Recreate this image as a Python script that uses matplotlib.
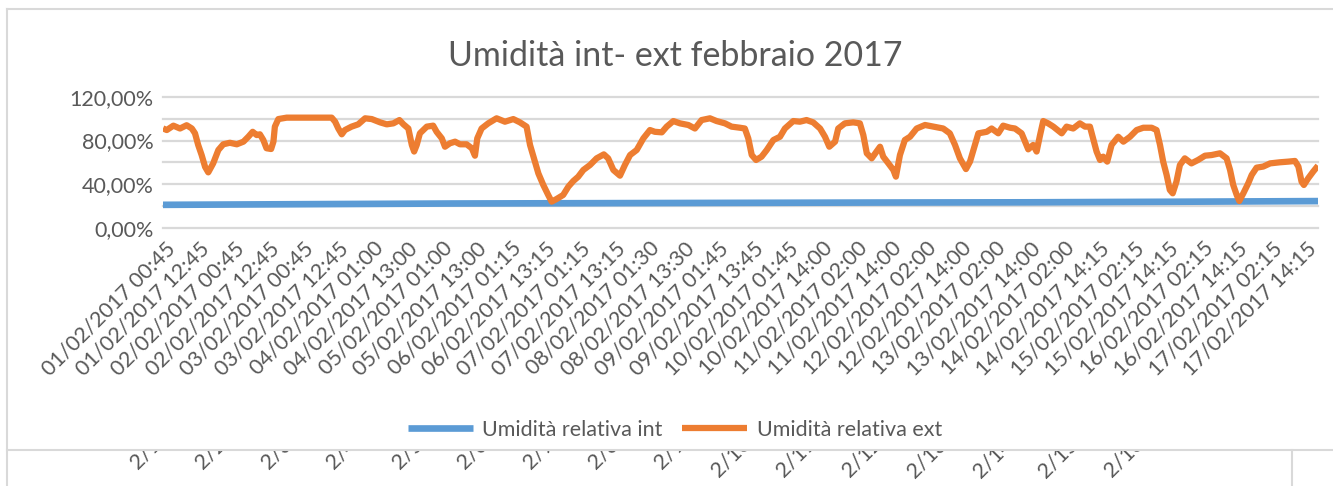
import matplotlib.pyplot as plt
from matplotlib.lines import Line2D
import matplotlib.transforms as mtransforms

plt.rcParams['font.family'] = ['Lato', 'DejaVu Sans']

GRIGIO = '#595959'

titolo = 'Umidità int- ext febbraio 2017'

etichette = [
    '01/02/2017 00:45', '01/02/2017 12:45', '02/02/2017 00:45', '02/02/2017 12:45',
    '03/02/2017 00:45', '03/02/2017 12:45', '04/02/2017 01:00', '04/02/2017 13:00',
    '05/02/2017 01:00', '05/02/2017 13:00', '06/02/2017 01:15', '06/02/2017 13:15',
    '07/02/2017 01:15', '07/02/2017 13:15', '08/02/2017 01:30', '08/02/2017 13:30',
    '09/02/2017 01:45', '09/02/2017 13:45', '10/02/2017 01:45', '10/02/2017 14:00',
    '11/02/2017 02:00', '11/02/2017 14:00', '12/02/2017 02:00', '12/02/2017 14:00',
    '13/02/2017 02:00', '13/02/2017 14:00', '14/02/2017 02:00', '14/02/2017 14:15',
    '15/02/2017 02:15', '15/02/2017 14:15', '16/02/2017 02:15', '16/02/2017 14:15',
    '17/02/2017 02:15', '17/02/2017 14:15',
]
# ore trascorse dalla prima misura (01/02 00:45), un'etichetta ogni 12 ore
ore_etichette = [12 * i for i in range(len(etichette))]

# umidita interna (%)
ore_int = [0, 50, 100, 150, 200, 250, 300, 350, 400.6]
umid_int = [21.4, 22.0, 22.6, 22.9, 23.2, 23.5, 23.7, 24.2, 24.8]

# umidita esterna (%)
ore_ext = [
    0, 1.3, 3.6, 5.9, 8.2, 10.0, 11.1, 12.2, 13.4, 14.6, 15.7, 17.4, 19.2, 20.9,
    23.2, 25.6, 27.9, 29.6, 31.1, 32.5, 33.6, 34.8, 35.9, 37.5, 38.3, 38.8, 40.0,
    42.9, 51.0, 58.5, 59.7, 60.8, 62.0, 63.1, 65.4, 67.7, 70.1, 72.4, 75.3, 77.6,
    79.9, 82.0, 83.4, 85.1, 86.3, 87.1, 88.0, 89.1, 91.5, 93.7, 94.9, 96.7, 97.8,
    99.5, 101.3, 103.0, 105.3, 107.1, 108.2, 109.0, 110.5, 112.8, 115.7, 118.6,
    121.5, 123.8, 126.1, 127.3, 129.0, 130.2, 131.9, 133.6, 134.8, 136.5, 138.8,
    140.6, 142.3, 144.0, 145.8, 148.1, 150.4, 152.9, 154.4, 156.2, 158.5, 160.2,
    162.0, 164.3, 166.6, 168.9, 170.6, 173.0, 174.7, 177.0, 179.3, 182.2, 184.5,
    186.8, 189.7, 192.0, 194.9, 197.2, 200.1, 201.8, 203.0, 204.2, 205.7, 207.6,
    209.4, 211.7, 214.0, 215.7, 218.6, 220.9, 223.2, 225.5, 227.9, 229.6, 231.1,
    233.1, 234.2, 236.5, 239.4, 241.7, 242.9, 244.1, 245.8, 247.5, 248.7, 249.8,
    251.6, 253.3, 254.2, 255.6, 257.3, 259.1, 261.4, 264.3, 267.2, 270.6, 272.9,
    274.7, 276.4, 278.5, 279.9, 281.6, 282.8, 285.7, 287.4, 289.7, 291.4, 293.8,
    295.5, 297.8, 300.1, 301.8, 303.0, 304.2, 305.3, 307.0, 308.8, 311.7, 313.4,
    315.7, 318.0, 319.8, 321.5, 322.6, 323.8, 325.0, 326.1, 327.5, 329.0, 331.3,
    333.1, 335.4, 337.7, 340.0, 342.9, 344.6, 345.8, 346.9, 348.1, 349.2, 350.2,
    351.5, 352.7, 354.4, 356.7, 359.0, 361.4, 363.7, 366.6, 368.9, 370.1, 371.2,
    372.4, 373.3, 374.7, 376.4, 377.6, 379.3, 381.6, 384.0, 387.4, 390.3, 392.6,
    393.8, 394.9, 395.7, 397.2, 398.9, 400.6,
]
umid_ext = [
    91.1, 89.6, 93.6, 91.0, 94.0, 91.0, 86.6, 76.0, 66.8, 56.0, 51.0, 59.2, 71.4, 76.6,
    78.0, 76.6, 79.0, 83.5, 88.0, 85.0, 85.7, 80.5, 73.0, 72.3, 79.0, 92.7, 99.6,
    100.9, 100.9, 100.9, 97.2, 91.0, 85.7, 89.6, 92.7, 94.8, 100.3, 99.6, 96.6, 94.8,
    95.7, 98.7, 94.8, 91.0, 76.0, 70.0, 76.0, 86.6, 92.7, 93.6, 88.0, 82.0, 74.4,
    77.5, 79.0, 76.6, 76.6, 73.0, 66.2, 82.0, 91.0, 95.7, 100.3, 97.2,
    99.6, 96.6, 92.7, 76.0, 60.8, 50.0, 39.5, 30.4, 24.3, 26.7, 30.4,
    38.0, 43.1, 47.0, 53.2, 57.7, 63.8, 67.4, 63.8, 53.2, 48.0, 57.7,
    66.8, 71.4, 82.0, 89.6, 88.0, 87.5, 92.7, 97.8, 95.7, 94.2, 91.0,
    98.7, 100.3, 97.8, 95.7, 92.7, 91.7, 91.0, 82.0, 66.8, 62.3, 65.3,
    71.4, 80.5, 83.5, 91.0, 97.8, 97.2, 98.7, 96.6, 91.0, 83.5, 74.4,
    79.0, 91.0, 95.7, 96.6, 95.7, 85.0, 68.4, 63.8, 70.0, 74.4, 65.3,
    59.2, 53.2, 47.1, 66.8, 80.5, 83.5, 91.0, 94.2, 92.7, 91.0, 86.6,
    76.0, 63.8, 54.0, 60.8, 76.0, 86.6, 88.0, 91.0, 86.6, 93.6, 91.7,
    91.0, 86.6, 72.0, 76.0, 70.0, 85.0, 97.8, 95.7, 92.7, 86.6, 92.7,
    91.0, 95.7, 92.7, 92.7, 82.0, 70.0, 62.3, 65.3, 60.8, 76.0, 83.5,
    79.0, 83.5, 89.6, 91.7, 91.7, 89.6, 76.0, 60.8, 48.6, 35.0, 31.9,
    42.5, 57.7, 63.8, 59.2, 62.3, 66.2, 66.8, 68.4, 63.8, 53.2, 39.5,
    30.4, 24.9, 31.9, 41.0, 48.6, 55.3, 56.3, 59.2, 60.2, 60.8, 61.4,
    56.3, 42.5, 39.5, 45.6, 51.6, 57.1,
]

# grafico sottostante tagliato (si vedono solo gli inizi delle etichette)
giorni_sotto = ['2/%d/2017' % g for g in range(1, 17)]

W, H = 1333, 486
fig = plt.figure(figsize=(W / 100, H / 100), dpi=100)

def fx(px):
    return px / W

def fy(py):
    return 1 - py / H

ax = fig.add_axes([fx(163), fy(228.3), fx(1318) - fx(163), fy(96.7) - fy(228.3)])
ax.plot(ore_int, umid_int, color='#5B9BD5', lw=4.8, solid_capstyle='butt',
        label='Umidità relativa int')
ax.plot(ore_ext, umid_ext, color='#ED7D31', lw=4.5, solid_joinstyle='round',
        solid_capstyle='butt', label='Umidità relativa ext')

ax.set_xlim(0, 400.6)
ax.set_ylim(0, 120)
yt = list(range(0, 121, 20))
ax.set_yticks(yt)
ax.set_yticklabels(['%d,00%%' % v if v % 40 == 0 else '' for v in yt])
ax.set_xticks(ore_etichette)
ax.set_xticklabels(etichette, rotation=45, ha='right', va='top', rotation_mode='anchor')
ax.tick_params(axis='both', length=0, labelsize=15.5, labelcolor=GRIGIO)
ax.tick_params(axis='x', pad=7)
ax.tick_params(axis='y', pad=7)
sposta = mtransforms.ScaledTranslation(2 / 100, 0, fig.dpi_scale_trans)
for lab in ax.get_xticklabels():
    lab.set_transform(lab.get_transform() + sposta)

ax.yaxis.grid(True, color='#d9d9d9', lw=1.6)
for g in ax.get_ygridlines():
    g.set_clip_on(False)
ax.set_axisbelow(True)
for s in ax.spines.values():
    s.set_visible(False)

fig.text(fx(675), fy(66), titolo, ha='center', va='baseline', fontsize=24.5,
         color=GRIGIO)

fig.legend(loc='center', bbox_to_anchor=(fx(675), fy(430)), ncol=2, frameon=False,
           fontsize=15.5, labelcolor=GRIGIO, handlelength=3.0, handletextpad=0.45,
           columnspacing=0.9)

# cornice del grafico
bordo = dict(color='#d9d9d9', lw=1.5, transform=fig.transFigure)
fig.add_artist(Line2D([fx(7), 1], [fy(9), fy(9)], **bordo))
fig.add_artist(Line2D([fx(7), fx(7)], [fy(9), 0], **bordo))
fig.add_artist(Line2D([fx(7), 1], [fy(450), fy(450)], **bordo))
fig.add_artist(Line2D([fx(1292), fx(1292)], [fy(450), 0], **bordo))

ax2 = fig.add_axes([fx(8), 0, fx(1291) - fx(8), fy(451)])
ax2.set_axis_off()
ax2.set_xlim(8, 1291)
ax2.set_ylim(H, 451)
for i, g in enumerate(giorni_sotto):
    ax2.text(204 + i * 65.5, 403, g, rotation=45, ha='right', va='baseline',
             rotation_mode='anchor', fontsize=15.5, color=GRIGIO, clip_on=True)

fig.savefig('out.png', dpi=100, facecolor='white')
